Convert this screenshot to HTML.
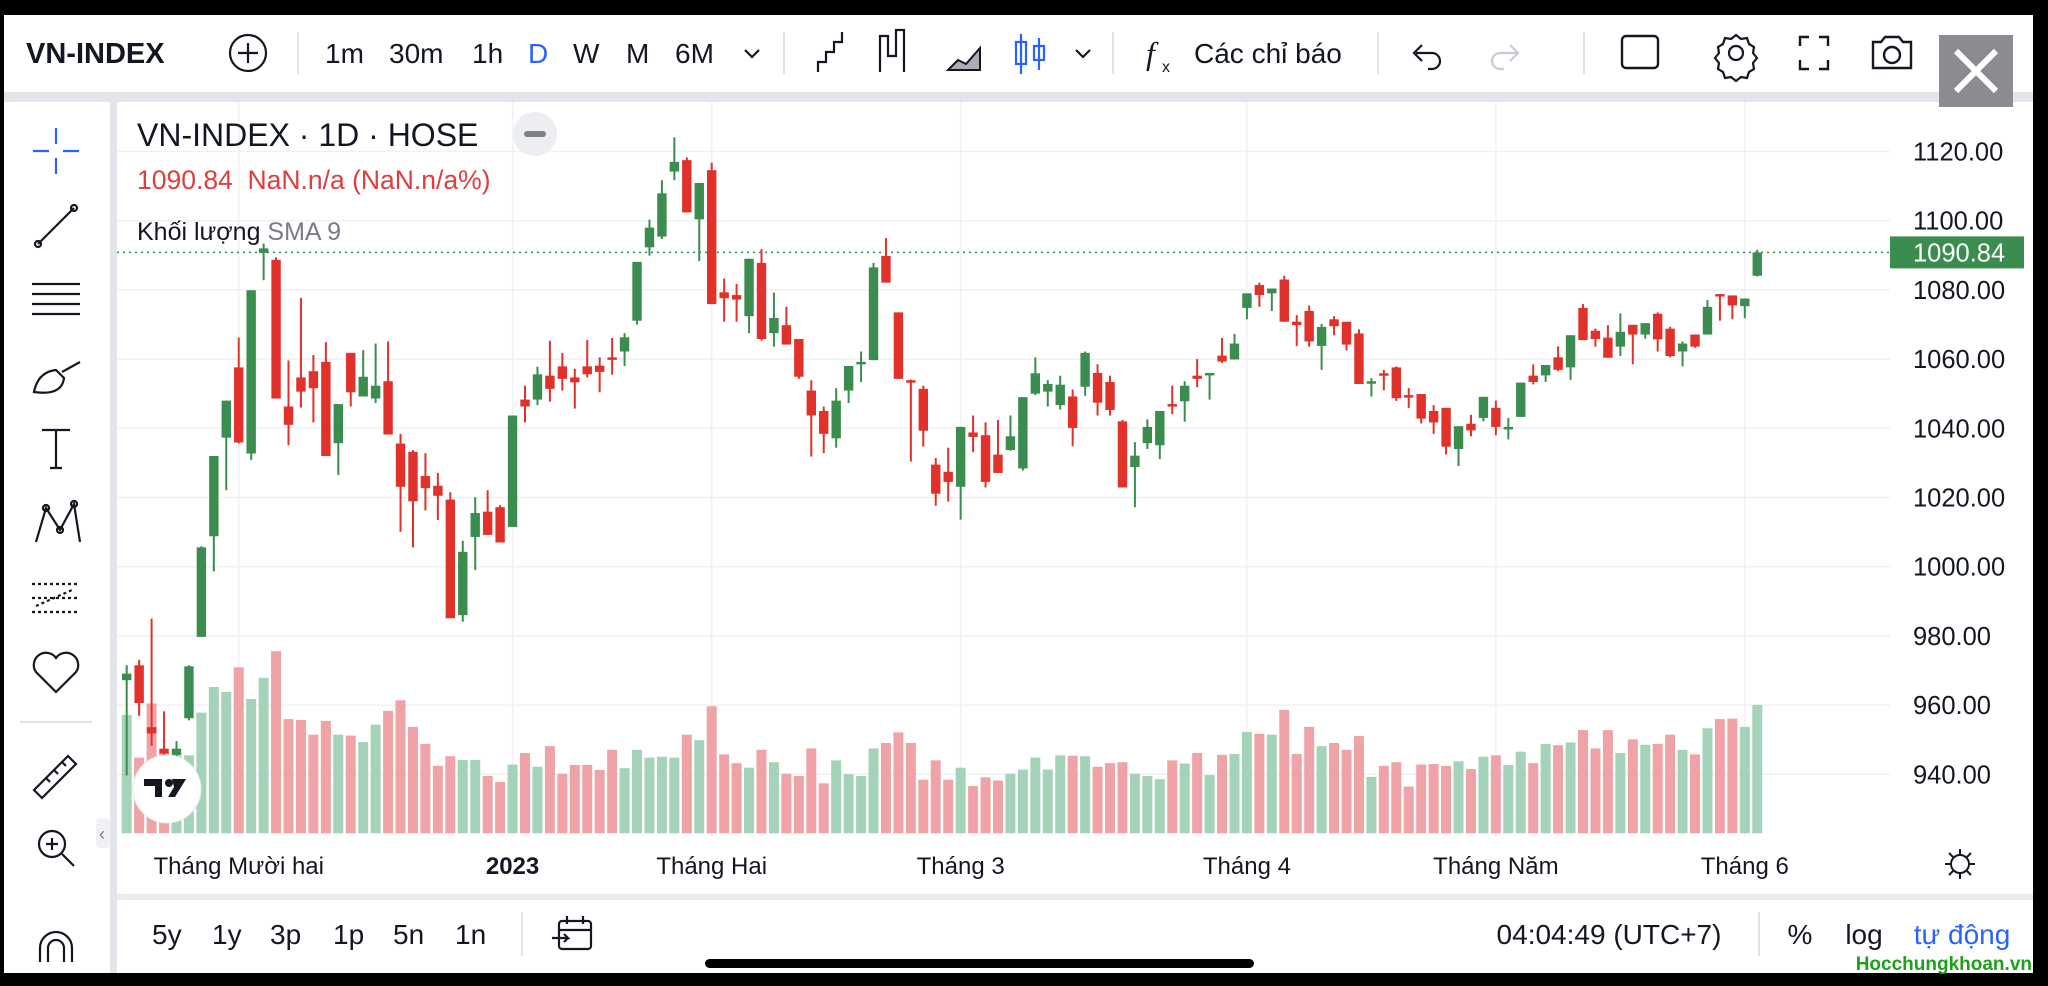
<!DOCTYPE html>
<html><head><meta charset="utf-8">
<style>
html,body{margin:0;padding:0;background:#000;}
#root{position:relative;width:2048px;height:986px;overflow:hidden;background:#000;font-family:"Liberation Sans",sans-serif;}
svg{position:absolute;left:0;top:0;}
</style></head>
<body>
<div id="root">
<svg id="svg" width="2048" height="986" viewBox="0 0 2048 986">
  <rect x="4" y="15" width="2029" height="958" fill="#ffffff"/>
  <rect x="4" y="92" width="2029" height="10" fill="#e3e5ea"/>
  <rect x="110" y="102" width="7" height="871" fill="#e3e5ea"/>
  <rect x="117" y="894" width="1916" height="6" fill="#e9ebef"/>

  <g font-family="Liberation Sans, sans-serif" font-size="28" fill="#131722">
    <text x="26" y="63" font-weight="bold" font-size="29">VN-INDEX</text>
    <g stroke="#131722" stroke-width="2.2" fill="none">
      <circle cx="248" cy="53" r="18"/><line x1="238" y1="53" x2="258" y2="53"/><line x1="248" y1="43" x2="248" y2="63"/>
    </g>
    <line x1="298" y1="32" x2="298" y2="74" stroke="#e0e3eb" stroke-width="2"/>
    <text x="325" y="63">1m</text>
    <text x="389" y="63">30m</text>
    <text x="472" y="63">1h</text>
    <text x="528" y="63" fill="#2962ff">D</text>
    <text x="573" y="63">W</text>
    <text x="626" y="63">M</text>
    <text x="675" y="63">6M</text>
    <path d="M745 50 l7 7 l7 -7" stroke="#131722" stroke-width="2.2" fill="none"/>
    <line x1="784" y1="32" x2="784" y2="74" stroke="#e0e3eb" stroke-width="2"/>
    <path d="M818 72 v-10 h8 v-10 h8 v-10 h8 v-10" stroke="#131722" stroke-width="2.2" fill="none"/>
    <path d="M880 72 v-36 h8 v20 h8 v-26 h8 v42" stroke="#131722" stroke-width="2.2" fill="none"/>
    <path d="M948 70 l10 -10 l8 4 l14 -16 v22 z" stroke="#131722" stroke-width="2" fill="#131722" fill-opacity="0.35"/>
    <g stroke="#2962ff" stroke-width="2.2" fill="none">
      <line x1="1021" y1="34" x2="1021" y2="74"/><rect x="1016" y="42" width="10" height="22"/>
      <line x1="1039" y1="38" x2="1039" y2="70"/><rect x="1034" y="46" width="10" height="14"/>
    </g>
    <path d="M1076 50 l7 7 l7 -7" stroke="#131722" stroke-width="2.2" fill="none"/>
    <line x1="1113" y1="32" x2="1113" y2="74" stroke="#e0e3eb" stroke-width="2"/>
    <text x="1146" y="64" font-style="italic" font-family="Liberation Serif, serif" font-size="32">f</text>
    <text x="1162" y="72" font-size="16">x</text>
    <text x="1194" y="63">Các chỉ báo</text>
    <line x1="1378" y1="32" x2="1378" y2="74" stroke="#e0e3eb" stroke-width="2"/>
    <path d="M1416 53 h16 a8 8 0 0 1 0 16 h-4 M1422 45 l-8 8 l8 8" stroke="#131722" stroke-width="2.2" fill="none"/>
    <path d="M1516 53 h-16 a8 8 0 0 0 0 16 h4 M1510 45 l8 8 l-8 8" stroke="#c8cbd3" stroke-width="2.2" fill="none"/>
    <line x1="1584" y1="32" x2="1584" y2="74" stroke="#e0e3eb" stroke-width="2"/>
    <rect x="1622" y="36" width="36" height="32" rx="4" stroke="#131722" stroke-width="2.4" fill="none"/>
    <g stroke="#131722" stroke-width="2.2" fill="none">
      <circle cx="1736" cy="53" r="7"/><path d="M1736 35 l5 4 l6 -1 l2 6 l5 3 l-1 6 l4 5 l-4 5 l1 6 l-5 3 l-2 6 l-6 -1 l-5 4 l-5 -4 l-6 1 l-2 -6 l-5 -3 l1 -6 l-4 -5 l4 -5 l-1 -6 l5 -3 l2 -6 l6 1 z"/>
    </g>
    <path d="M1800 46 v-9 h9 M1819 37 h9 v9 M1828 60 v9 h-9 M1809 69 h-9 v-9" stroke="#131722" stroke-width="2.4" fill="none"/>
    <g stroke="#131722" stroke-width="2.4" fill="none">
      <path d="M1873 42 h8 l4 -5 h14 l4 5 h8 v26 h-38 z"/><circle cx="1892" cy="55" r="8"/>
    </g>
  </g>
  <g>
    <rect x="1939" y="35" width="74" height="72" fill="#8b8c90"/>
    <path d="M1956 51 l40 40 M1996 51 l-40 40" stroke="#fff" stroke-width="6"/>
  </g>

  <g stroke="#131722" stroke-width="2.2" fill="none">
    <g stroke="#2962ff"><path d="M56 128 v16 M56 158 v16 M33 151 h16 M63 151 h16"/></g>
    <g><path d="M38 244 l36 -36"/><circle cx="38" cy="244" r="3"/><circle cx="74" cy="208" r="3"/></g>
    <g><path d="M32 284 h48 M32 294 h48 M32 304 h48 M32 314 h48"/></g>
    <g><path d="M34 392 q4 -20 22 -22 l8 8 q-2 18 -30 14 z M62 372 l18 -10"/></g>
    <g><path d="M42 430 h28 M56 430 v38 M50 468 h12"/></g>
    <g><path d="M36 542 l10 -34 l14 22 l14 -26 l6 38"/><circle cx="46" cy="508" r="3"/><circle cx="60" cy="530" r="3"/><circle cx="74" cy="504" r="3"/></g>
    <g><path d="M32 584 h48 M32 598 h48 M32 612 h48 M36 606 l36 -16" stroke-dasharray="3 3"/></g>
    <g><path d="M56 692 l-20 -20 a11 11 0 0 1 20 -14 a11 11 0 0 1 20 14 z"/></g>
    <line x1="20" y1="722" x2="92" y2="722" stroke="#e0e3eb"/>
    <g><path d="M34 790 l34 -34 l8 8 l-34 34 z M46 778 l4 4 M54 770 l4 4 M62 762 l4 4"/></g>
    <g><circle cx="52" cy="844" r="13"/><path d="M62 854 l12 12 M46 844 h12 M52 838 v12"/></g>
    <g><path d="M40 962 v-14 a16 16 0 0 1 32 0 v14 M48 962 v-14 a8 8 0 0 1 16 0 v14"/></g>
  </g>
  <rect x="96" y="818" width="14" height="30" rx="4" fill="#f0f1f4"/>
  <text x="99" y="840" font-size="18" fill="#787b86">‹</text>

  <g id="grid"></g>
  <g id="volumes"></g>
  <g id="candles"></g>
  <g id="yaxis"></g>
  <g id="xaxis"></g>

  <g font-family="Liberation Sans, sans-serif">
    <text x="137" y="146" font-size="32" fill="#131722">VN-INDEX · 1D · HOSE</text>
    <g><circle cx="535" cy="134" r="22" fill="#eceef2"/><rect x="524" y="131" width="22" height="6" rx="3" fill="#7d8089"/></g>
    <text x="137" y="189" font-size="26.5" fill="#e03d3d" xml:space="preserve">1090.84  NaN.n/a (NaN.n/a%)</text>
    <text x="137" y="240" font-size="25" fill="#131722">Khối lượng <tspan fill="#787b86">SMA 9</tspan></text>
  </g>
  <g>
    <circle cx="167" cy="789" r="34" fill="#ffffff" stroke="#e6e6e6"/>
    <path d="M144 779 h18 v18 h-7 v-11 h-11 z M172 779 h14 l-11 18 h-7 l6 -10 z" fill="#131722"/>
    <circle cx="169" cy="783" r="4" fill="#131722"/>
  </g>
  <g stroke="#131722" stroke-width="2" fill="none">
    <circle cx="1960" cy="864" r="9"/><path d="M1960 849 v5 M1960 874 v5 M1945 864 h5 M1970 864 h5 M1949 853 l4 4 M1967 871 l4 4 M1971 853 l-4 4 M1953 871 l-4 4"/>
  </g>

  <g font-family="Liberation Sans, sans-serif" font-size="28" fill="#131722">
    <text x="152" y="944">5y</text>
    <text x="212" y="944">1y</text>
    <text x="270" y="944">3p</text>
    <text x="333" y="944">1p</text>
    <text x="393" y="944">5n</text>
    <text x="455" y="944">1n</text>
    <line x1="522" y1="912" x2="522" y2="956" stroke="#e0e3eb" stroke-width="2"/>
    <g stroke="#131722" stroke-width="2.2" fill="none"><rect x="559" y="921" width="32" height="28" rx="3"/><path d="M559 930 h32 M567 916 v8 M583 916 v8 M552 938 h16 l-4 -4 M568 938 l-4 4"/></g>
    <text x="1609" y="944" text-anchor="middle">04:04:49 (UTC+7)</text>
    <line x1="1759" y1="912" x2="1759" y2="956" stroke="#e0e3eb" stroke-width="2"/>
    <text x="1800" y="944" text-anchor="middle">%</text>
    <text x="1864" y="944" text-anchor="middle">log</text>
    <text x="1962" y="944" text-anchor="middle" fill="#2962ff">tự động</text>
  </g>
  <rect x="705" y="959" width="549" height="9" rx="4.5" fill="#000"/>
  <text x="2032" y="970" text-anchor="end" font-family="Liberation Sans, sans-serif" font-weight="bold" font-size="19" fill="#1aa31a">Hocchungkhoan.vn</text>
</svg>
</div>
<script>
const opens  = [967.2,971.5,953.6,947.4,945.6,956.2,979.7,1008.8,1037.3,1057.6,1032.7,1090.7,1088.7,1046.3,1054.7,1056.5,1059.2,1035.7,1061.8,1049.2,1048.6,1053.6,1035.6,1033.2,1026.2,1023.4,1019.4,986.0,1008.6,1015.9,1017.2,1011.5,1048.3,1048.3,1055.2,1057.9,1054.7,1057.9,1058.1,1060.5,1062.2,1071.1,1092.3,1095.4,1114.2,1117.5,1100.4,1114.6,1079.3,1078.5,1072.4,1087.8,1067.5,1069.8,1065.8,1050.9,1045.0,1037.1,1050.9,1058.9,1059.7,1089.8,1073.5,1053.9,1051.4,1029.5,1027.4,1023.1,1038.8,1038.0,1032.4,1033.7,1028.4,1050.0,1050.6,1046.7,1049.2,1052.0,1056.0,1053.4,1042.0,1028.8,1035.7,1035.1,1047.0,1047.8,1055.2,1055.3,1061.0,1059.9,1074.8,1081.4,1079.0,1083.0,1070.8,1073.9,1063.8,1071.5,1070.8,1067.4,1053.2,1055.9,1057.6,1049.6,1049.9,1045.0,1045.9,1034.0,1041.3,1043.0,1045.9,1040.0,1043.3,1055.2,1055.3,1060.5,1057.6,1074.8,1068.2,1066.2,1063.6,1069.9,1067.1,1073.1,1068.8,1062.2,1067.1,1067.1,1078.8,1078.4,1075.3,1084.1];
const highs  = [971.5,973.1,985.0,958.2,949.6,971.5,1005.9,1032.0,1048.0,1066.2,1079.9,1093.4,1089.4,1059.6,1077.7,1061.2,1064.9,1047.0,1061.8,1062.6,1064.5,1065.1,1038.4,1033.7,1032.8,1027.1,1021.5,1007.5,1020.1,1022.1,1017.8,1043.7,1052.3,1057.8,1065.3,1061.8,1057.2,1065.5,1060.5,1066.1,1067.5,1088.1,1100.3,1111.7,1124.1,1118.3,1110.9,1116.8,1083.3,1081.7,1089.0,1091.8,1079.2,1075.1,1065.8,1053.9,1046.3,1051.6,1058.0,1062.2,1087.8,1095.0,1073.5,1054.1,1052.3,1031.4,1034.4,1040.4,1043.7,1041.7,1042.4,1043.7,1049.0,1060.5,1053.9,1055.2,1051.2,1062.2,1058.5,1055.2,1042.4,1036.0,1042.6,1045.0,1052.3,1053.6,1060.0,1056.0,1066.1,1067.3,1079.0,1082.1,1080.4,1084.1,1072.7,1075.5,1070.2,1072.4,1070.8,1068.6,1054.5,1056.9,1057.9,1051.6,1049.9,1046.7,1045.9,1040.6,1043.9,1049.1,1048.0,1043.0,1053.2,1058.5,1058.3,1063.7,1066.9,1075.9,1068.8,1069.8,1073.2,1069.9,1070.4,1073.5,1069.3,1065.1,1067.1,1077.1,1078.8,1078.4,1077.5,1091.6];
const lows   = [939.7,956.9,948.3,945.0,945.0,955.6,979.7,998.6,1022.1,1035.6,1030.8,1082.8,1048.6,1035.1,1046.0,1041.7,1032.0,1026.5,1046.3,1049.2,1047.3,1038.2,1010.1,1005.6,1016.3,1013.5,985.1,984.1,999.0,1009.2,1007.0,1011.5,1041.7,1046.7,1047.7,1050.9,1045.7,1054.7,1050.4,1055.5,1058.0,1070.0,1089.9,1094.7,1111.7,1102.4,1088.3,1075.9,1070.8,1070.8,1067.5,1065.3,1063.6,1064.2,1054.3,1031.8,1032.8,1034.4,1047.3,1053.4,1059.7,1082.1,1054.3,1030.4,1034.7,1017.6,1018.8,1013.6,1033.1,1022.9,1027.1,1033.5,1027.8,1049.6,1046.3,1045.4,1034.8,1049.4,1043.7,1043.7,1022.9,1017.2,1034.0,1031.1,1044.1,1041.9,1051.9,1048.3,1058.9,1059.9,1071.5,1075.1,1073.9,1070.8,1063.8,1063.6,1056.9,1066.9,1062.5,1052.8,1049.2,1051.0,1047.9,1045.9,1041.4,1038.4,1032.4,1029.1,1037.7,1042.0,1038.0,1036.8,1043.3,1052.7,1053.4,1056.5,1054.0,1065.5,1063.6,1060.4,1060.9,1058.5,1065.9,1062.2,1060.5,1057.9,1063.3,1067.1,1071.1,1071.5,1071.8,1083.9];
const closes = [969.1,960.6,951.8,946.0,947.4,971.2,1005.6,1032.0,1048.0,1035.9,1079.9,1092.0,1048.6,1041.0,1050.6,1051.6,1032.0,1047.0,1050.4,1054.9,1052.3,1038.2,1023.1,1018.9,1022.7,1020.5,985.1,1004.3,1015.5,1009.2,1007.0,1043.7,1046.3,1055.6,1051.4,1054.3,1053.3,1055.6,1056.3,1060.0,1066.3,1088.1,1098.0,1107.9,1117.0,1102.4,1110.9,1075.9,1077.6,1077.2,1089.0,1065.8,1071.9,1064.2,1054.9,1043.7,1038.4,1048.0,1058.0,1059.2,1086.5,1082.1,1054.3,1053.4,1039.3,1021.1,1024.5,1040.4,1037.5,1024.5,1027.1,1037.7,1049.0,1055.9,1052.8,1052.6,1040.1,1061.8,1047.4,1045.3,1022.9,1032.1,1040.4,1045.0,1046.5,1052.3,1054.3,1056.0,1059.3,1064.5,1079.0,1078.5,1080.4,1070.8,1069.8,1065.1,1069.3,1069.5,1064.2,1052.8,1053.6,1055.2,1048.7,1049.2,1042.8,1041.7,1034.7,1040.6,1039.4,1049.1,1040.4,1040.4,1053.2,1053.4,1058.3,1056.9,1066.9,1065.5,1065.8,1060.4,1067.9,1067.1,1070.4,1065.7,1060.9,1064.5,1063.6,1075.1,1078.4,1075.5,1077.5,1090.84];
const volumes = [25.8,16.5,28.3,17.5,17.0,17.0,26.3,31.9,30.8,36.2,29.3,33.9,39.7,24.9,24.7,21.5,24.5,21.5,21.3,19.9,23.7,26.7,29.0,23.2,19.5,14.7,16.8,16.0,16.0,12.5,11.2,15.0,17.5,14.5,19.0,13.0,14.9,14.9,13.8,18.2,14.2,18.2,16.5,16.7,16.5,21.5,20.3,27.7,17.2,15.3,14.3,18.2,15.5,13.0,12.5,18.5,10.9,15.9,12.9,12.5,18.5,19.7,22.0,19.7,11.7,15.9,11.7,14.3,10.3,12.2,11.5,13.0,13.9,16.5,13.9,17.0,16.9,16.8,14.5,15.3,15.5,13.0,12.5,11.8,15.9,15.2,17.5,12.7,17.1,17.3,22.1,21.7,21.5,26.9,17.3,23.2,19.0,19.7,18.2,21.2,12.3,14.7,15.5,10.2,15.0,15.1,14.7,15.7,14.0,16.7,17.0,14.9,17.8,15.3,19.5,19.2,19.8,22.5,18.5,22.5,17.5,20.5,19.3,19.5,21.5,18.2,17.2,22.9,24.9,25.0,23.2,28.0];
const priceTicks = [940,960,980,1000,1020,1040,1060,1080,1100,1120];
const timeTickIndex = [9,31,47,67,90,110,130];
const timeTickLabels = ["Tháng Mười hai","2023","Tháng Hai","Tháng 3","Tháng 4","Tháng Năm","Tháng 6"];
const lastPrice = 1090.84;

const NS = "http://www.w3.org/2000/svg";
const plotLeft = 117, plotRight = 1890, plotTop = 102, plotBottom = 836;
const x0 = 126.7, step = 12.447;
function xScale(i){ return x0 + i*step; }
function yScale(v){ return 151.5 + (1120 - v) * 3.46; }
const volBase = 833.3, volK = 4.587;
function volScale(v){ return v*volK; }

function mk(tag, attrs, parent){
  const el = document.createElementNS(NS, tag);
  for (const k in attrs) el.setAttribute(k, attrs[k]);
  parent.appendChild(el);
  return el;
}

const grid = document.getElementById('grid');
const yaxis = document.getElementById('yaxis');
const xaxis = document.getElementById('xaxis');
priceTicks.forEach(v=>{
  const y = yScale(v);
  const gl = mk('line',{x1:plotLeft,x2:plotRight,y1:y,y2:y,stroke:'#f0f1f4','stroke-width':1.5},grid);
  
  
  const t = mk('text',{x:1913,y:y+9,'font-size':25.5,fill:'#131722','font-family':'Liberation Sans, sans-serif'},yaxis);
  t.textContent = v.toFixed(2);
  
  
});
timeTickIndex.forEach((idx,k)=>{
  const x = xScale(idx);
  const gl = mk('line',{x1:x,x2:x,y1:plotTop,y2:plotBottom,stroke:'#f0f1f4','stroke-width':1.5},grid);
  
  
  const t = mk('text',{x:x,y:874,'text-anchor':'middle','font-size':24,fill:'#131722','font-family':'Liberation Sans, sans-serif'},xaxis);
  if (timeTickLabels[k]==="2023") t.setAttribute('font-weight','bold');
  t.textContent = timeTickLabels[k];
  
  
});

const vg = document.getElementById('volumes');
const cg = document.getElementById('candles');
for (let i=0;i<closes.length;i++){
  const up = closes[i] >= opens[i];
  const x = xScale(i);
  const h = volScale(volumes[i]);
  const vb = mk('rect',{x:x-5,y:volBase-h,width:10,height:h,fill: up ? '#a5d3b9' : '#f0a3a7'},vg);
  
  
  const col = up ? '#3a8d4f' : '#e0312b';
  const g = mk('g',{},cg);
  
  
  mk('line',{x1:x,x2:x,y1:yScale(highs[i]),y2:yScale(lows[i]),stroke:col,'stroke-width':2},g);
  const top = yScale(Math.max(opens[i],closes[i]));
  const bh = Math.max(2.5, Math.abs(yScale(opens[i])-yScale(closes[i])));
  mk('rect',{x:x-4.7,y:top,width:9.4,height:bh,fill:col},g);
}

const ly = yScale(lastPrice);
const pl = mk('line',{x1:plotLeft,x2:plotRight,y1:ly,y2:ly,stroke:'#3a8d4f','stroke-width':1.5,'stroke-dasharray':'2 4'},grid);


const lb = mk('rect',{x:1890,y:ly-16,width:134,height:32,fill:'#3a8d4f'},yaxis);


const lt = mk('text',{x:1913,y:ly+9,'font-size':25.5,fill:'#ffffff','font-family':'Liberation Sans, sans-serif'},yaxis);
lt.textContent = lastPrice.toFixed(2);


</script>
</body></html>
